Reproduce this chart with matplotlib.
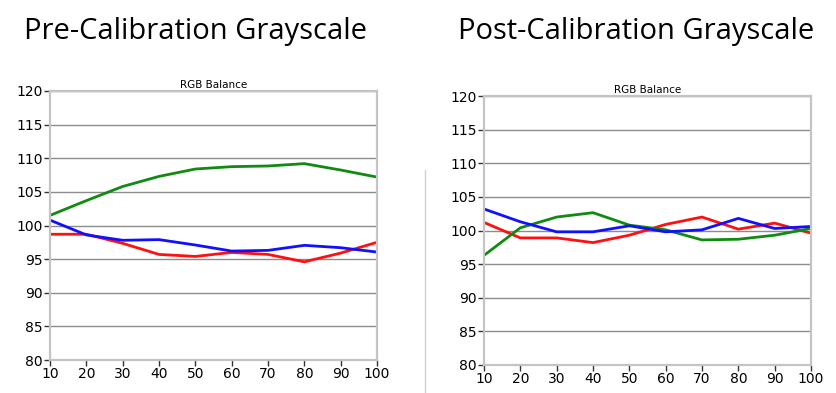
import matplotlib.pyplot as plt
from matplotlib.lines import Line2D

levels = [10, 20, 30, 40, 50, 60, 70, 80, 90, 100]

# Pre-calibration RGB balance
pre_red = [98.7, 98.7, 97.35, 95.7, 95.4, 96.0, 95.7, 94.6, 95.9, 97.5]
pre_green = [101.5, 103.7, 105.8, 107.3, 108.4, 108.75, 108.85, 109.2, 108.25, 107.2]
pre_blue = [100.8, 98.6, 97.8, 97.9, 97.1, 96.2, 96.3, 97.05, 96.7, 96.05]

# Post-calibration RGB balance
post_red = [101.2, 98.9, 98.9, 98.2, 99.3, 100.9, 102.0, 100.2, 101.1, 99.6]
post_green = [96.3, 100.4, 102.0, 102.65, 100.8, 100.1, 98.6, 98.7, 99.3, 100.3]
post_blue = [103.2, 101.3, 99.8, 99.8, 100.7, 99.8, 100.1, 101.8, 100.3, 100.6]

titles = ['Pre-Calibration Grayscale', 'Post-Calibration Grayscale']
yticks = [80, 85, 90, 95, 100, 105, 110, 115, 120]

W, H = 837, 393
fig = plt.figure(figsize=(W / 100, H / 100), dpi=100)


def setup_axes(box, red, green, blue, title, title_x):
    x0, y0, x1, y1 = box
    ax = fig.add_axes([x0 / W, 1 - y1 / H, (x1 - x0) / W, (y1 - y0) / H])
    ax.plot(levels, red, color='#ff1010', lw=2)
    ax.plot(levels, green, color='#108a10', lw=2)
    ax.plot(levels, blue, color='#1010ff', lw=2)
    ax.set_xlim(10, 100)
    ax.set_ylim(80, 120)
    ax.set_xticks(levels)
    ax.set_yticks(yticks)
    ax.yaxis.grid(True, color='#8c8c8c', lw=1.0)
    ax.set_axisbelow(True)
    for s in ax.spines.values():
        s.set_color('#c4c4c4')
        s.set_linewidth(1.6)
    ax.tick_params(axis='both', length=4, width=1, color='#333333',
                   labelsize=10, pad=1)
    ax.set_title('RGB Balance', fontsize=7.5, pad=2)
    fig.text(title_x / W, 1 - 31 / H, title, fontsize=21,
             family='Open Sans', ha='center', va='center')
    return ax


setup_axes((50, 91, 377, 360), pre_red, pre_green, pre_blue, titles[0], 196)
setup_axes((484, 96, 811, 365), post_red, post_green, post_blue, titles[1], 636)

# thin divider between the two charts
fig.add_artist(Line2D([425 / W, 425 / W], [0, 1 - 170 / H],
                      transform=fig.transFigure, color='#d0d0d0', lw=1))

fig.savefig('out.png', dpi=100)
